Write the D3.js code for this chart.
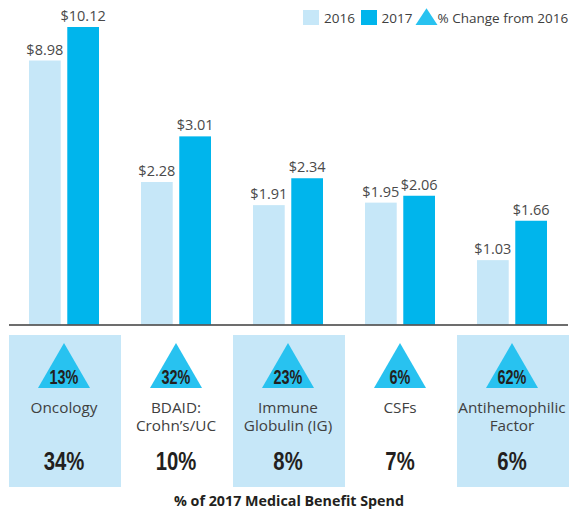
<!DOCTYPE html>
<html><head><meta charset="utf-8">
<script src="https://cdn.jsdelivr.net/npm/d3@7"></script>
<style>
body{margin:0;background:#fff;}
svg{display:block;}
</style></head>
<body>
<svg id="chart" width="570" height="511"></svg>
<script>
const categories = ["Oncology","BDAID: Crohn’s/UC","Immune Globulin (IG)","CSFs","Antihemophilic Factor"];
const labelLines = [["Oncology"],["BDAID:","Crohn’s/UC"],["Immune","Globulin (IG)"],["CSFs"],["Antihemophilic","Factor"]];
const values2016 = [8.98, 2.28, 1.91, 1.95, 1.03];
const values2017 = [10.12, 3.01, 2.34, 2.06, 1.66];
const pctChange = ["13%","32%","23%","6%","62%"];
const shareOfSpend = ["34%","10%","8%","7%","6%"];
const seriesNames = ["2016","2017"];
const legendTriangleLabel = "% Change from 2016";
const footerTitle = "% of 2017 Medical Benefit Spend";

const C16 = "#c6e7f8", C17 = "#00b5ec", CTRI = "#28c2f0";
const svg = d3.select("#chart");
const baseY = 324.5;

const x = d3.scaleBand().domain(categories).range([8, 568]).padding(0);
// main scale (non-oncology); oncology bars are drawn on a compressed (broken) scale
const y = d3.scaleLinear().domain([0, 3.2]).range([baseY, baseY - 3.2 * 62.5]);
const yOnc = d3.scaleLinear().domain([0, 10.12]).range([baseY, 27]);
const yFor = i => i === 0 ? yOnc : y;

const barW = 29, gap = 12;
const sx = d3.scaleBand().domain(seriesNames).range([-barW - gap/2, barW + gap/2]).paddingInner(gap / (2*barW + gap));

const data = [];
categories.forEach((c, i) => {
  data.push({c, i, s: "2016", v: values2016[i]});
  data.push({c, i, s: "2017", v: values2017[i]});
});

const g = svg.append("g");
g.selectAll("rect.bar").data(data).join("rect")
  .attr("class","bar")
  .attr("x", d => x(d.c) + x.bandwidth()/2 + sx(d.s))
  .attr("width", sx.bandwidth())
  .attr("y", d => yFor(d.i)(d.v))
  .attr("height", d => baseY - yFor(d.i)(d.v))
  .attr("fill", d => d.s === "2016" ? C16 : C17);

g.selectAll("text.val").data(data).join("text")
  .attr("class","val")
  .attr("x", d => x(d.c) + x.bandwidth()/2 + sx(d.s) + sx.bandwidth()/2)
  .attr("y", d => yFor(d.i)(d.v) - 6)
  .attr("text-anchor","middle")
  .attr("font-family","'Open Sans', sans-serif")
  .attr("font-size", 14.5)
  .attr("fill","#4a4a4a")
  .text(d => "$" + d.v.toFixed(2));

// baseline
svg.append("line").attr("x1", 9).attr("x2", 568).attr("y1", baseY + 0.5).attr("y2", baseY + 0.5)
  .attr("stroke","#3c3c3c").attr("stroke-width", 1.6);

// bottom panels
const panel = svg.append("g");
function condensed(parent, cx, cy, size, sxf, txt) {
  parent.append("text")
    .attr("transform", `translate(${cx},${cy}) scale(${sxf},1)`)
    .attr("text-anchor","middle")
    .attr("font-family","'Liberation Sans', Arial, sans-serif")
    .attr("font-weight","bold").attr("font-size", size).attr("fill","#231f20")
    .text(txt);
}
categories.forEach((c, i) => {
  const cx = x(c) + x.bandwidth()/2;
  if (i % 2 === 0) {
    panel.append("rect").attr("x", x(c) + 1).attr("y", 335).attr("width", x.bandwidth()).attr("height", 152).attr("fill", C16);
  }
  panel.append("path")
    .attr("d", `M${cx},343 L${cx+26},388 L${cx-26},388 Z`)
    .attr("fill", CTRI);
  condensed(panel, cx, 383.5, 19.5, 0.74, pctChange[i]);
  labelLines[i].forEach((ln, k) => {
    panel.append("text").attr("x", cx).attr("y", 412.5 + k*18.5).attr("text-anchor","middle")
      .attr("font-family","'Open Sans', sans-serif").attr("font-size", 15.3).attr("fill","#404040")
      .text(ln);
  });
  condensed(panel, cx, 469.5, 26, 0.78, shareOfSpend[i]);
});

svg.append("text").attr("x", 289).attr("y", 505.5).attr("text-anchor","middle")
  .attr("font-family","'Open Sans', sans-serif").attr("font-weight","bold").attr("font-size", 14.3)
  .attr("fill","#231f20").text(footerTitle);

// legend
const lg = svg.append("g").attr("font-family","'Open Sans', sans-serif").attr("font-size", 13.5).attr("fill","#404040");
lg.append("rect").attr("x", 303).attr("y", 10).attr("width", 16).attr("height", 15).attr("fill", C16);
lg.append("text").attr("x", 324).attr("y", 22.5).text(seriesNames[0]);
lg.append("rect").attr("x", 361).attr("y", 10).attr("width", 16).attr("height", 15).attr("fill", C17);
lg.append("text").attr("x", 381.5).attr("y", 22.5).text(seriesNames[1]);
lg.append("path").attr("d","M426.5,8.3 L437.5,25 L415.5,25 Z").attr("fill", CTRI);
lg.append("text").attr("x", 437.5).attr("y", 22.5).text(legendTriangleLabel);
</script>
</body></html>
